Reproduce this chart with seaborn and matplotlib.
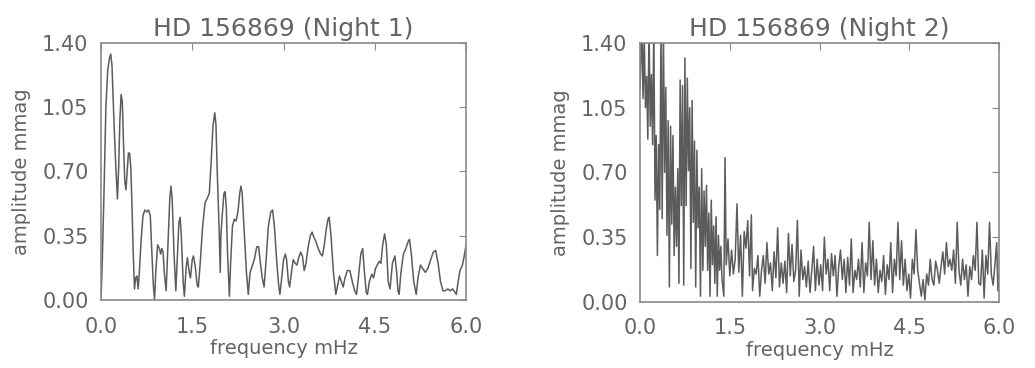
import matplotlib
matplotlib.use("Agg")
import matplotlib.pyplot as plt
import numpy as np
import pandas as pd
import seaborn as sns

# Night 1 amplitude spectrum (frequency mHz, amplitude mmag)
freq_n1 = [0.00, 0.02, 0.05, 0.08, 0.11, 0.14, 0.16, 0.18, 0.21, 0.24, 0.27, 0.29, 0.31, 0.33, 0.35,
           0.37, 0.39, 0.41, 0.43, 0.45, 0.47, 0.49, 0.51, 0.53, 0.55, 0.57, 0.59, 0.61, 0.63, 0.66,
           0.69, 0.72, 0.75, 0.78, 0.81, 0.83, 0.86, 0.88, 0.90, 0.93, 0.96, 0.98, 1.00, 1.02, 1.04,
           1.07, 1.10, 1.13, 1.15, 1.17, 1.20, 1.23, 1.25, 1.28, 1.30, 1.32, 1.35, 1.37, 1.40, 1.42,
           1.45, 1.47, 1.50, 1.52, 1.55, 1.58, 1.60, 1.63, 1.67, 1.71, 1.74, 1.78, 1.81, 1.84, 1.87,
           1.89, 1.91, 1.94, 1.96, 1.97, 1.99, 2.02, 2.04, 2.06, 2.08, 2.11, 2.13, 2.16, 2.19, 2.22,
           2.25, 2.28, 2.30, 2.32, 2.35, 2.39, 2.42, 2.45, 2.48, 2.52, 2.56, 2.59, 2.62, 2.65, 2.68,
           2.71, 2.75, 2.79, 2.82, 2.85, 2.89, 2.92, 2.94, 2.97, 3.00, 3.03, 3.05, 3.08, 3.10, 3.13,
           3.16, 3.19, 3.22, 3.25, 3.28, 3.31, 3.34, 3.37, 3.40, 3.44, 3.47, 3.50, 3.53, 3.57, 3.61,
           3.64, 3.67, 3.70, 3.73, 3.75, 3.78, 3.82, 3.86, 3.89, 3.92, 3.95, 3.98, 4.01, 4.05, 4.09,
           4.13, 4.17, 4.20, 4.23, 4.27, 4.30, 4.33, 4.36, 4.38, 4.41, 4.45, 4.48, 4.51, 4.54, 4.57,
           4.60, 4.63, 4.66, 4.69, 4.72, 4.75, 4.79, 4.83, 4.86, 4.88, 4.90, 4.93, 4.97, 5.01, 5.05,
           5.07, 5.10, 5.14, 5.18, 5.21, 5.25, 5.29, 5.33, 5.37, 5.42, 5.46, 5.50, 5.54, 5.58, 5.62,
           5.66, 5.70, 5.74, 5.78, 5.82, 5.84, 5.87, 5.90, 5.94, 5.97, 6.00]
amp_n1 = [0.00, 0.20, 0.60, 1.05, 1.25, 1.32, 1.34, 1.28, 1.00, 0.75, 0.55, 0.72, 0.98, 1.12, 1.08,
          0.85, 0.65, 0.60, 0.70, 0.80, 0.80, 0.72, 0.50, 0.25, 0.06, 0.12, 0.13, 0.06, 0.15, 0.33,
          0.46, 0.49, 0.48, 0.49, 0.46, 0.30, 0.08, 0.00, 0.15, 0.30, 0.28, 0.25, 0.28, 0.26, 0.15,
          0.05, 0.30, 0.55, 0.62, 0.55, 0.25, 0.05, 0.20, 0.42, 0.45, 0.35, 0.10, 0.02, 0.18, 0.23,
          0.15, 0.12, 0.22, 0.24, 0.18, 0.08, 0.07, 0.20, 0.40, 0.53, 0.55, 0.58, 0.75, 0.95, 1.02,
          0.95, 0.70, 0.40, 0.15, 0.35, 0.45, 0.58, 0.59, 0.50, 0.25, 0.02, 0.20, 0.40, 0.44, 0.43,
          0.48, 0.58, 0.62, 0.58, 0.40, 0.15, 0.03, 0.15, 0.18, 0.22, 0.29, 0.29, 0.20, 0.12, 0.07,
          0.20, 0.40, 0.48, 0.49, 0.40, 0.20, 0.08, 0.03, 0.12, 0.22, 0.25, 0.22, 0.10, 0.07, 0.15,
          0.22, 0.20, 0.19, 0.23, 0.26, 0.24, 0.16, 0.20, 0.28, 0.35, 0.37, 0.34, 0.32, 0.28, 0.25,
          0.24, 0.30, 0.38, 0.44, 0.45, 0.35, 0.15, 0.03, 0.08, 0.13, 0.10, 0.07, 0.12, 0.16, 0.16,
          0.10, 0.05, 0.03, 0.12, 0.25, 0.28, 0.15, 0.04, 0.03, 0.10, 0.14, 0.12, 0.17, 0.19, 0.21,
          0.20, 0.30, 0.36, 0.30, 0.10, 0.06, 0.20, 0.24, 0.15, 0.05, 0.03, 0.15, 0.25, 0.28, 0.32,
          0.33, 0.25, 0.10, 0.03, 0.12, 0.19, 0.17, 0.15, 0.17, 0.22, 0.26, 0.27, 0.20, 0.10, 0.05,
          0.05, 0.06, 0.05, 0.06, 0.04, 0.03, 0.10, 0.16, 0.19, 0.24, 0.30]

# Night 2 amplitude spectrum (much noisier)
freq_n2 = [0.00, 0.03, 0.05, 0.07, 0.09, 0.11, 0.13, 0.15, 0.17, 0.19, 0.21, 0.23, 0.25, 0.27, 0.29,
           0.31, 0.33, 0.35, 0.37, 0.39, 0.41, 0.43, 0.45, 0.47, 0.49, 0.51, 0.53, 0.55, 0.57, 0.59,
           0.61, 0.63, 0.65, 0.67, 0.69, 0.71, 0.73, 0.75, 0.77, 0.79, 0.81, 0.83, 0.85, 0.87, 0.89,
           0.91, 0.93, 0.95, 0.97, 0.99, 1.01, 1.03, 1.05, 1.07, 1.09, 1.11, 1.13, 1.15, 1.17, 1.19,
           1.21, 1.23, 1.25, 1.27, 1.29, 1.31, 1.33, 1.35, 1.37, 1.40, 1.42, 1.44, 1.47, 1.50, 1.53,
           1.56, 1.59, 1.62, 1.65, 1.68, 1.71, 1.74, 1.77, 1.80, 1.83, 1.86, 1.88, 1.91, 1.94, 1.97,
           2.00, 2.03, 2.06, 2.09, 2.12, 2.15, 2.18, 2.21, 2.24, 2.27, 2.30, 2.33, 2.36, 2.39, 2.42,
           2.45, 2.48, 2.51, 2.54, 2.57, 2.60, 2.63, 2.66, 2.69, 2.72, 2.75, 2.78, 2.81, 2.84, 2.87,
           2.90, 2.93, 2.96, 2.99, 3.02, 3.05, 3.08, 3.11, 3.14, 3.17, 3.20, 3.23, 3.26, 3.29, 3.32,
           3.35, 3.38, 3.41, 3.44, 3.47, 3.50, 3.53, 3.56, 3.59, 3.62, 3.65, 3.68, 3.71, 3.74, 3.77,
           3.80, 3.83, 3.86, 3.89, 3.92, 3.95, 3.98, 4.01, 4.04, 4.07, 4.10, 4.13, 4.16, 4.19, 4.22,
           4.25, 4.28, 4.31, 4.34, 4.37, 4.40, 4.43, 4.46, 4.49, 4.52, 4.55, 4.58, 4.61, 4.64, 4.67,
           4.70, 4.73, 4.76, 4.79, 4.82, 4.85, 4.88, 4.91, 4.94, 4.97, 5.00, 5.03, 5.06, 5.09, 5.12,
           5.15, 5.18, 5.21, 5.24, 5.27, 5.30, 5.33, 5.36, 5.39, 5.42, 5.45, 5.48, 5.51, 5.54, 5.57,
           5.60, 5.63, 5.66, 5.69, 5.72, 5.75, 5.78, 5.81, 5.84, 5.87, 5.90, 5.93, 5.96, 5.98, 6.00]
amp_n2 = [1.15, 1.50, 1.10, 1.45, 1.05, 1.22, 0.88, 1.50, 0.95, 1.23, 0.85, 1.50, 0.55, 0.90, 0.25,
          0.85, 0.50, 1.50, 0.45, 1.50, 0.70, 1.16, 0.36, 0.98, 0.08, 0.95, 0.42, 0.90, 0.25, 0.62,
          0.30, 0.72, 0.10, 1.20, 0.52, 1.17, 0.09, 1.32, 0.52, 1.21, 0.71, 1.05, 0.18, 1.09, 0.43,
          0.87, 0.08, 0.82, 0.40, 0.62, 0.03, 0.72, 0.17, 0.60, 0.30, 0.63, 0.17, 0.48, 0.03, 0.55,
          0.20, 0.41, 0.10, 0.46, 0.03, 0.36, 0.17, 0.30, 0.12, 0.03, 0.78, 0.20, 0.34, 0.14, 0.28,
          0.15, 0.23, 0.53, 0.16, 0.36, 0.03, 0.38, 0.29, 0.44, 0.14, 0.47, 0.06, 0.18, 0.15, 0.25,
          0.03, 0.17, 0.25, 0.10, 0.32, 0.15, 0.21, 0.06, 0.27, 0.13, 0.40, 0.08, 0.21, 0.10, 0.22,
          0.05, 0.37, 0.14, 0.31, 0.11, 0.17, 0.44, 0.03, 0.28, 0.12, 0.19, 0.08, 0.22, 0.05, 0.17,
          0.30, 0.06, 0.23, 0.09, 0.20, 0.06, 0.35, 0.15, 0.23, 0.06, 0.26, 0.14, 0.25, 0.03, 0.19,
          0.28, 0.12, 0.23, 0.05, 0.24, 0.09, 0.34, 0.05, 0.17, 0.12, 0.23, 0.08, 0.32, 0.05, 0.21,
          0.14, 0.43, 0.12, 0.33, 0.09, 0.23, 0.05, 0.17, 0.11, 0.25, 0.04, 0.20, 0.12, 0.32, 0.05,
          0.23, 0.14, 0.43, 0.12, 0.33, 0.09, 0.23, 0.06, 0.15, 0.02, 0.23, 0.15, 0.39, 0.17, 0.10,
          0.03, 0.12, 0.01, 0.15, 0.09, 0.23, 0.12, 0.09, 0.22, 0.17, 0.10, 0.19, 0.27, 0.15, 0.32,
          0.19, 0.23, 0.17, 0.28, 0.10, 0.43, 0.17, 0.09, 0.23, 0.12, 0.20, 0.03, 0.19, 0.12, 0.25,
          0.17, 0.43, 0.10, 0.09, 0.28, 0.02, 0.25, 0.15, 0.43, 0.15, 0.09, 0.20, 0.32, 0.06, 0.15]

panels = [("HD 156869 (Night 1)", freq_n1, amp_n1),
          ("HD 156869 (Night 2)", freq_n2, amp_n2)]
xticks = [0.0, 1.5, 3.0, 4.5, 6.0]
yticks = [0.00, 0.35, 0.70, 1.05, 1.40]

sns.set_style("white")
plt.rcParams['font.family'] = ['DejaVu Sans']
grey = '#646464'

fig = plt.figure(figsize=(10.35, 3.68), dpi=100)
rects = [[0.0976, 0.185, 0.3527, 0.698],
         [0.6184, 0.180, 0.3469, 0.703]]

for rect, (title, f, a) in zip(rects, panels):
    ax = fig.add_axes(rect)
    df = pd.DataFrame({'frequency': f, 'amplitude': a})
    sns.lineplot(data=df, x='frequency', y='amplitude', sort=False, estimator=None,
                 color='#5c5c5c', linewidth=1.1, ax=ax)
    ax.set_xlim(0, 6)
    ax.set_ylim(0, 1.40)
    ax.set_xticks(xticks)
    ax.set_xticklabels([f"{v:.1f}" for v in xticks])
    ax.set_yticks(yticks)
    ax.set_yticklabels([f"{v:.2f}" for v in yticks])
    ax.tick_params(direction='in', length=5, width=0.8, colors='#888888',
                   top=True, right=True, labelsize=15, labelcolor=grey)
    ax.tick_params(axis='x', pad=12)
    ax.tick_params(axis='y', pad=9)
    for sp in ax.spines.values():
        sp.set_color('#8a8a8a')
        sp.set_linewidth(1.2)
    ax.set_xlabel('frequency mHz', fontsize=14, color=grey, labelpad=2)
    ax.set_ylabel('amplitude mmag', fontsize=14, color=grey, labelpad=8)
    ax.set_title(title, fontsize=18, color=grey, pad=5)

fig.savefig('out.png', dpi=100, facecolor='white')
